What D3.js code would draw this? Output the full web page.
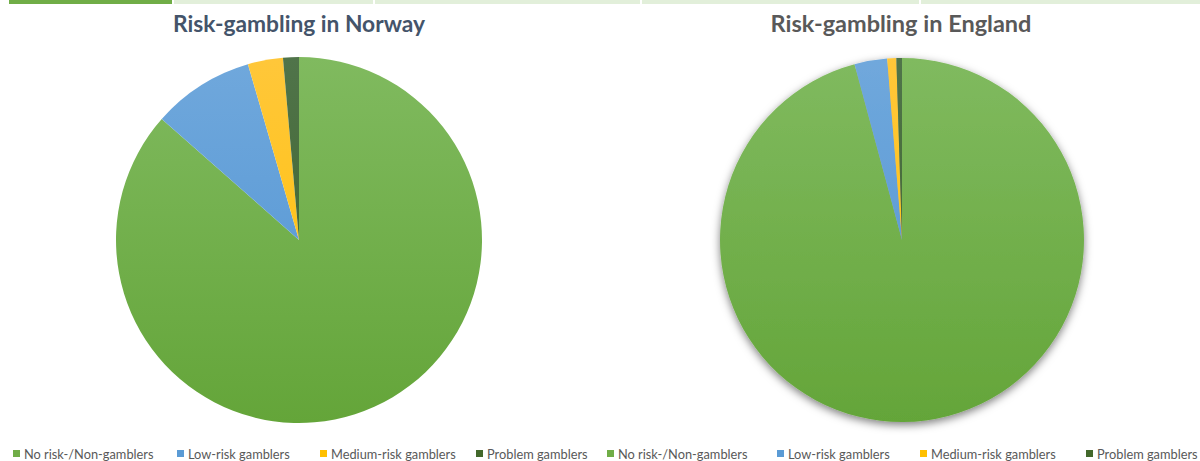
<!DOCTYPE html>
<html><head><meta charset="utf-8">
<script src="https://cdn.jsdelivr.net/npm/d3@7"></script>
<style>html,body{margin:0;padding:0;background:#fff;overflow:hidden}svg{display:block}</style>
</head><body>
<svg id="chart" width="1200" height="461"></svg>
<script>
const categories = ["No risk-/Non-gamblers", "Low-risk gamblers", "Medium-risk gamblers", "Problem gamblers"];
const norwayValues = [86.5, 9.0, 3.1, 1.4];
const englandValues = [95.8, 2.9, 0.8, 0.5];
const titles = ["Risk-gambling in Norway", "Risk-gambling in England"];
const baseColors = ["#70ad47", "#5b9bd5", "#ffc000", "#43682b"];
const topColors = ["#80ba5f", "#70a8dc", "#ffc73a", "#50744a"];
const bottomColors = ["#64a539", "#4f93d3", "#ffc000", "#3b6025"];

const svg = d3.select("#chart");
const defs = svg.append("defs");

// top tab bar
const tabs = [[9,172,"#70ad47"],[174,373,"#e2efda"],[375,640,"#e2efda"],[642,919,"#e2efda"],[921,1200,"#e2efda"]];
svg.selectAll("rect.tab").data(tabs).join("rect").attr("class","tab")
  .attr("x", d=>d[0]).attr("y",0).attr("width", d=>d[1]-d[0]).attr("height",4).attr("fill", d=>d[2]);

const shadow = defs.append("filter").attr("id","shadow").attr("x","-20%").attr("y","-20%").attr("width","140%").attr("height","140%");
shadow.append("feDropShadow").attr("dx",0).attr("dy",3).attr("stdDeviation",4).attr("flood-color","#000").attr("flood-opacity",0.5);

const charts = [
  {values: norwayValues, cx: 299, cy: 240, r: 183, title: titles[0], titleColor: "#44546a", titleX: 299, titleW: 252, shadow: false, legendX: [13, 177, 320, 476]},
  {values: englandValues, cx: 902, cy: 240, r: 182, title: titles[1], titleColor: "#595959", titleX: 901, titleW: 261, shadow: true, legendX: [607, 777, 920, 1086]}
];

charts.forEach((c, ci) => {
  const g = svg.append("g");
  baseColors.forEach((col, i) => {
    const lg = defs.append("linearGradient").attr("id", `grad${ci}_${i}`)
      .attr("gradientUnits","userSpaceOnUse").attr("x1",0).attr("x2",0).attr("y1",-c.r).attr("y2",c.r);
    lg.append("stop").attr("offset","0%").attr("stop-color", topColors[i]);
    lg.append("stop").attr("offset","100%").attr("stop-color", bottomColors[i]);
  });
  const pie = d3.pie().sort(null).value(d=>d);
  const arc = d3.arc().innerRadius(0).outerRadius(c.r);
  const pg = g.append("g").attr("transform", `translate(${c.cx},${c.cy})`);
  if (c.shadow) pg.attr("filter","url(#shadow)");
  pg.selectAll("path").data(pie(c.values)).join("path")
    .attr("d", arc)
    .attr("fill", (d,i)=>`url(#grad${ci}_${i})`);

  const t = svg.append("text").text(c.title)
    .attr("x", c.titleX).attr("y", 32).attr("text-anchor","middle")
    .attr("font-family","Lato, 'Open Sans', sans-serif").attr("font-weight","bold")
    .attr("font-size", 20).attr("fill", c.titleColor);
  const w = t.node().getComputedTextLength();
  t.attr("font-size", 20 * c.titleW / w);

  const lg = svg.append("g");
  categories.forEach((cat, i) => {
    const x = c.legendX[i];
    lg.append("rect").attr("x", x).attr("y", 450).attr("width", 7).attr("height", 7).attr("fill", baseColors[i]);
    lg.append("text").text(cat).attr("x", x + 11).attr("y", 459)
      .attr("font-family","Lato, 'Open Sans', sans-serif").attr("font-size", 12.8).attr("fill","#595959");
  });
});
</script>
</body></html>
